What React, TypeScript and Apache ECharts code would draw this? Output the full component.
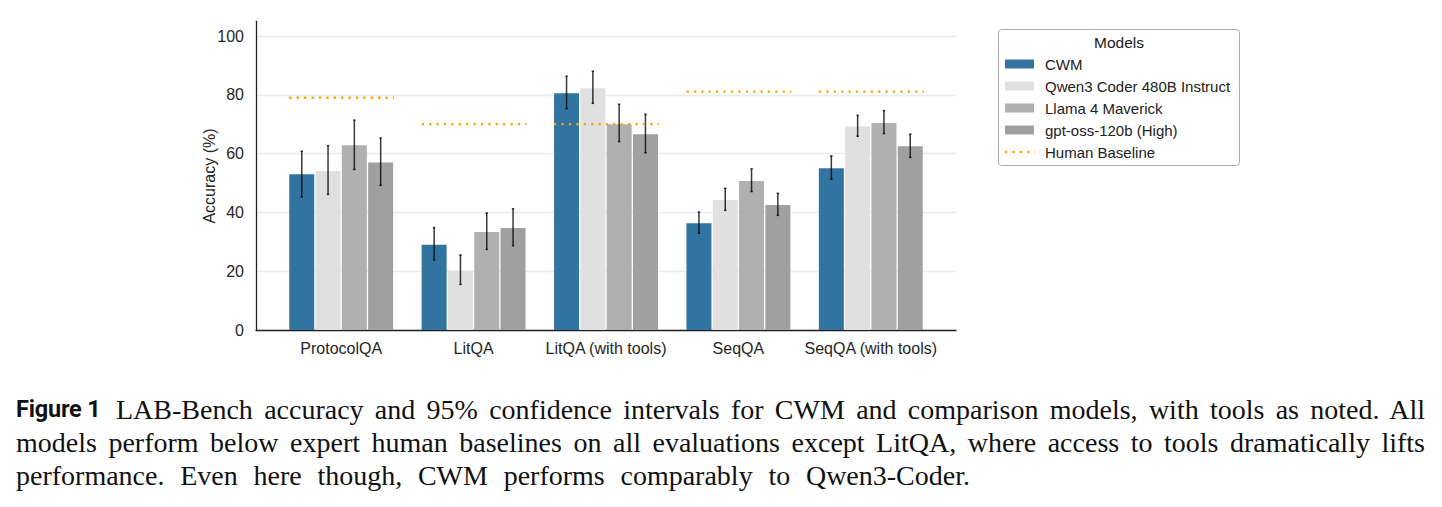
import React, { useEffect, useRef } from "react";
import * as echarts from "echarts";

const categories = ["ProtocolQA", "LitQA", "LitQA (with tools)", "SeqQA", "SeqQA (with tools)"];
const modelNames = ["CWM", "Qwen3 Coder 480B Instruct", "Llama 4 Maverick", "gpt-oss-120b (High)"];
const modelColors = ["#3274A1", "#E0E0E0", "#B0B0B0", "#A0A0A0"];

const cwm = [53.0, 29.0, 80.5, 36.3, 55.0];
const qwen = [54.1, 20.2, 82.2, 44.2, 69.2];
const llama = [62.8, 33.3, 70.0, 50.7, 70.4];
const gpt = [57.0, 34.7, 66.6, 42.5, 62.5];

const cwmLow = [45.3, 23.8, 75.3, 32.9, 51.3];
const cwmHigh = [60.8, 34.8, 86.3, 40.1, 59.2];
const qwenLow = [46.1, 15.5, 77.1, 40.7, 65.9];
const qwenHigh = [62.7, 25.5, 88.0, 48.2, 73.0];
const llamaLow = [54.6, 27.4, 64.1, 47.1, 66.8];
const llamaHigh = [71.4, 39.8, 76.8, 54.8, 74.6];
const gptLow = [49.2, 28.7, 60.3, 39.0, 58.7];
const gptHigh = [65.3, 41.2, 73.4, 46.5, 66.6];

const humanBaseline = [79.0, 70.0, 70.0, 81.1, 81.1];
const humanLabel = "Human Baseline";
const legendTitle = "Models";
const yAxisTitle = "Accuracy (%)";
const yTicks = { min: 0, max: 100, interval: 20 };

const captionBold = "Figure 1";
const captionLine1 =
  "LAB-Bench accuracy and 95% confidence intervals for CWM and comparison models, with tools as noted. All";
const captionLine2 =
  "models perform below expert human baselines on all evaluations except LitQA, where access to tools dramatically lifts";
const captionLine3 = "performance. Even here though, CWM performs comparably to Qwen3-Coder.";

const FONT = '"Liberation Sans", Arial, sans-serif';
const BAR_W = 25;
const BAR_GAP = 1.3;
const STEP = BAR_W + BAR_GAP;
const ORANGE = "#FFA500";

const values = [cwm, qwen, llama, gpt];
const lows = [cwmLow, qwenLow, llamaLow, gptLow];
const highs = [cwmHigh, qwenHigh, llamaHigh, gptHigh];

function txt(text: string, x: number, y: number, size: number, align: string, extra: any = {}) {
  return {
    type: "text",
    x,
    y,
    z: 11,
    ...extra,
    style: {
      text,
      fontSize: size,
      fontFamily: FONT,
      fill: "#222",
      align,
      verticalAlign: "middle",
      textAlign: align,
      textVerticalAlign: "middle",
    },
  };
}

function buildOption(): any {
  const errData: number[][] = [];
  lows.forEach((lo, s) => {
    lo.forEach((v, c) => errData.push([c, v, highs[s][c], s]));
  });
  const humanData = humanBaseline.map((v, c) => [c, v]);

  const legendRows = [64, 86, 108, 130, 152];
  const legendGraphics: any[] = [
    {
      type: "rect",
      shape: { x: 998.5, y: 29.5, width: 241, height: 136, r: 3 },
      style: { fill: "#fff", stroke: "#aaa", lineWidth: 1 },
      z: 10,
    },
    txt(legendTitle, 1119, 42, 15.5, "center"),
  ];
  modelNames.forEach((name, i) => {
    legendGraphics.push({
      type: "rect",
      z: 11,
      shape: { x: 1005, y: legendRows[i] - 4.5, width: 29, height: 9 },
      style: { fill: modelColors[i] },
    });
    legendGraphics.push(txt(name, 1045, legendRows[i], 15, "left"));
  });
  legendGraphics.push({
    type: "line",
    z: 11,
    shape: { x1: 1005, y1: legendRows[4], x2: 1035, y2: legendRows[4] },
    style: { stroke: ORANGE, lineWidth: 2.3, lineDash: [2.3, 5.1] },
  });
  legendGraphics.push(txt(humanLabel, 1045, legendRows[4], 15, "left"));
  const yTitle = txt(yAxisTitle, 209.5, 176, 16, "center", { rotation: Math.PI / 2 });
  yTitle.style.fill = "#262626";
  legendGraphics.push(yTitle);

  const barSeries = modelNames.map((name, s) => ({
    type: "bar",
    name,
    xAxisIndex: 2,
    yAxisIndex: 2,
    data: values[s],
    barWidth: BAR_W,
    barGap: ((BAR_GAP / BAR_W) * 100).toFixed(2) + "%",
    itemStyle: { color: modelColors[s] },
    z: 2,
  }));

  return {
    animation: false,
    backgroundColor: "#fff",
    textStyle: { fontFamily: FONT },
    grid: [
      { left: 256, top: 21.3, width: 700, height: 308.7, containLabel: false },
      { left: 256, top: 36, width: 700, height: 294, containLabel: false },
      { left: 275, top: 36, width: 662, height: 294, containLabel: false },
    ],
    xAxis: [
      {
        gridIndex: 0,
        type: "value",
        min: 0,
        max: 1,
        axisLine: { show: true, lineStyle: { color: "#222", width: 1.3 } },
        axisTick: { show: false },
        axisLabel: { show: false },
        splitLine: { show: false },
      },
      {
        gridIndex: 1,
        type: "value",
        min: 0,
        max: 1,
        show: false,
      },
      {
        gridIndex: 2,
        type: "category",
        data: categories,
        axisLine: { show: false },
        axisTick: { show: false },
        axisLabel: { interval: 0, fontSize: 16, color: "#262626", margin: 10, fontFamily: FONT },
        splitLine: { show: false },
      },
    ],
    yAxis: [
      {
        gridIndex: 0,
        type: "value",
        min: 0,
        max: 105,
        axisLine: { show: true, lineStyle: { color: "#222", width: 1.3 } },
        axisTick: { show: false },
        axisLabel: { show: false },
        splitLine: { show: false },
      },
      {
        gridIndex: 1,
        type: "value",
        min: yTicks.min,
        max: yTicks.max,
        interval: yTicks.interval,
        axisLine: { show: false },
        axisTick: { show: false },
        axisLabel: { fontSize: 16, color: "#262626", margin: 12, fontFamily: FONT },
        splitLine: { show: true, lineStyle: { color: "#EBEBEB", width: 1.3 } },
      },
      {
        gridIndex: 2,
        type: "value",
        min: yTicks.min,
        max: yTicks.max,
        show: false,
      },
    ],
    series: [
      ...barSeries,
      {
        type: "custom",
        name: "ci",
        xAxisIndex: 2,
        yAxisIndex: 2,
        z: 5,
        data: errData,
        encode: { x: 0, y: [1, 2] },
        renderItem: (params: any, api: any) => {
          const c = api.value(0);
          const s = api.value(3);
          const lo = api.coord([c, api.value(1)]);
          const hi = api.coord([c, api.value(2)]);
          const x = lo[0] + (s - 1.5) * STEP;
          const style = { stroke: "rgba(0,0,0,0.78)", lineWidth: 1.5 };
          return {
            type: "group",
            children: [
              { type: "line", shape: { x1: x, y1: lo[1], x2: x, y2: hi[1] }, style },
              { type: "line", shape: { x1: x - 1.2, y1: lo[1], x2: x + 1.2, y2: lo[1] }, style },
              { type: "line", shape: { x1: x - 1.2, y1: hi[1], x2: x + 1.2, y2: hi[1] }, style },
            ],
          };
        },
      },
      {
        type: "custom",
        name: humanLabel,
        xAxisIndex: 2,
        yAxisIndex: 2,
        z: 6,
        data: humanData,
        encode: { x: 0, y: 1 },
        renderItem: (params: any, api: any) => {
          const p = api.coord([api.value(0), api.value(1)]);
          const half = 2 * BAR_W + 1.5 * BAR_GAP;
          return {
            type: "line",
            shape: { x1: p[0] - half, y1: p[1], x2: p[0] + half + 1, y2: p[1] },
            style: { stroke: ORANGE, lineWidth: 2.3, lineDash: [2.3, 5.1] },
          };
        },
      },
    ],
    graphic: legendGraphics,
  };
}

export default function App() {
  const ref = useRef<HTMLDivElement>(null);
  useEffect(() => {
    const chart = echarts.init(ref.current as HTMLDivElement, null, { renderer: "svg" });
    chart.setOption(buildOption());
    return () => chart.dispose();
  }, []);

  const serif = '"Liberation Serif", "Times New Roman", serif';
  const lineBase: React.CSSProperties = {
    position: "absolute",
    fontFamily: serif,
    fontSize: 28,
    lineHeight: "33px",
    whiteSpace: "normal",
    textAlign: "justify",
    textAlignLast: "justify",
    color: "#111",
  };

  return (
    <div style={{ position: "fixed", left: 0, top: 0, width: 1442, height: 507, background: "#fff", overflow: "hidden" }}>
      <div ref={ref} style={{ position: "absolute", left: 0, top: 0, width: 1442, height: 507 }} />
      <div
        style={{
          position: "absolute",
          left: 16,
          top: 393,
          lineHeight: "33px",
          whiteSpace: "nowrap",
          color: "#111",
          fontFamily: "Roboto, sans-serif",
          fontWeight: 700,
          fontSize: 23.5,
          letterSpacing: "-0.2px",
        }}
      >
        {captionBold}
      </div>
      <div style={{ ...lineBase, left: 116, top: 393, width: 1309 }}>{captionLine1}</div>
      <div style={{ ...lineBase, left: 16, top: 426, width: 1409 }}>{captionLine2}</div>
      <div style={{ ...lineBase, left: 16, top: 459, width: 954 }}>{captionLine3}</div>
    </div>
  );
}
